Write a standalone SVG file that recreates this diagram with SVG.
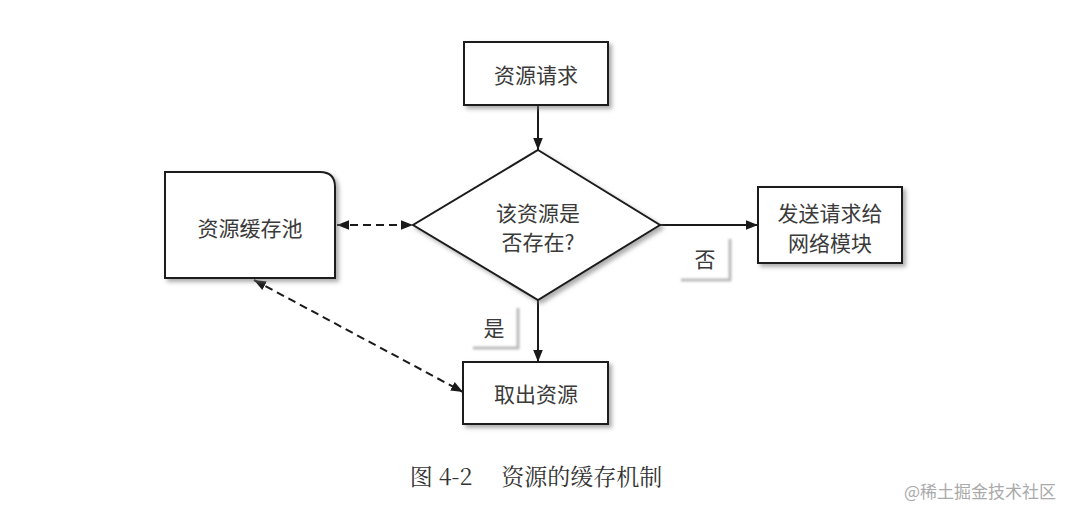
<svg xmlns="http://www.w3.org/2000/svg" width="1077" height="515" viewBox="0 0 1077 515">
<defs>
<style>
.box{fill:#fff;stroke:#1a1a1a;stroke-width:2;filter:url(#sh)}
.t{font-family:"Noto Sans CJK SC","Noto Sans",sans-serif;font-size:21px;fill:#3a3a3a;text-anchor:middle;dominant-baseline:central}
.ln{stroke:#1a1a1a;stroke-width:2;fill:none}
.dash{stroke:#1a1a1a;stroke-width:2;fill:none;stroke-dasharray:8 5}
.lsh{fill:none;stroke:#bbb;stroke-width:3;filter:url(#bl)}
</style>
<filter id="sh" x="-10%" y="-10%" width="130%" height="130%">
<feDropShadow dx="3" dy="3" stdDeviation="2" flood-color="#777" flood-opacity="0.6"/>
</filter>
<filter id="bl"><feGaussianBlur stdDeviation="1"/></filter>
<marker id="ah2" viewBox="0 0 10 10" refX="10" refY="5" markerWidth="12" markerHeight="12" orient="auto-start-reverse" markerUnits="userSpaceOnUse">
<path d="M0,1 L10,5 L0,9 z" fill="#1a1a1a"/>
</marker>
</defs>
<rect width="1077" height="515" fill="#fff"/>

<g id="connectors">
<line class="ln" x1="538" y1="105" x2="538" y2="150" marker-end="url(#ah2)"/>
<line class="ln" x1="660" y1="225" x2="758" y2="225" marker-end="url(#ah2)"/>
<line class="ln" x1="538" y1="300" x2="538" y2="362" marker-end="url(#ah2)"/>
<line class="dash" x1="337" y1="225" x2="413" y2="225" marker-start="url(#ah2)" marker-end="url(#ah2)"/>
<line class="dash" x1="254" y1="280" x2="463" y2="392" marker-start="url(#ah2)" marker-end="url(#ah2)"/>
</g>

<g id="node-request">
<rect class="box" x="464" y="42" width="144" height="63"/>
<text class="t" x="536" y="74">资源请求</text>
</g>

<g id="node-decision">
<polygon class="box" points="538,150 660,225 538,300 413,225"/>
<text class="t" x="538" y="212">该资源是</text>
<text class="t" x="538" y="241">否存在?</text>
</g>

<g id="node-cache">
<path class="box" d="M165,172 H320 Q335,172 335,187 V278 H165 Z"/>
<text class="t" x="250" y="227">资源缓存池</text>
</g>

<g id="node-network">
<rect class="box" x="758" y="187" width="144" height="76"/>
<text class="t" x="830" y="212">发送请求给</text>
<text class="t" x="830" y="242">网络模块</text>
</g>

<g id="node-fetch">
<rect class="box" x="463" y="362" width="145" height="62"/>
<text class="t" x="536" y="393">取出资源</text>
</g>

<g id="label-no">
<path class="lsh" d="M730,239 V280 H681"/>
<text class="t" x="705" y="258">否</text>
</g>

<g id="label-yes">
<path class="lsh" d="M518,308 V348 H473"/>
<text class="t" x="494" y="327">是</text>
</g>

<text class="t" x="536" y="475" style="font-size:23px;fill:#333;font-family:'Noto Serif CJK SC','Noto Sans CJK SC',serif">图 4-2　 资源的缓存机制</text>
<text x="980" y="490" style="font-family:'Noto Sans CJK SC',sans-serif;font-size:17px;fill:#aaa;text-anchor:middle;dominant-baseline:central">@稀土掘金技术社区</text>
</svg>
